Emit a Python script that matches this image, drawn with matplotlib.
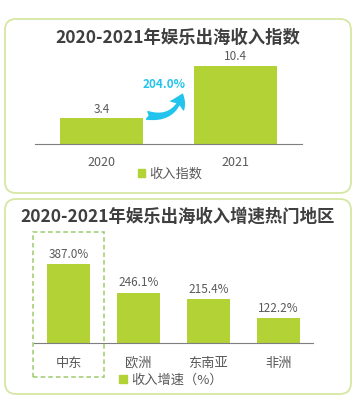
import matplotlib
matplotlib.use('Agg')
import matplotlib.pyplot as plt
from matplotlib.patches import FancyBboxPatch, Rectangle, FancyArrowPatch, Patch

plt.rcParams['font.family'] = ['Noto Sans CJK SC', 'DejaVu Sans']

# ==================== 数据 ====================
years = ['2020', '2021']
income_index = [3.4, 10.4]
growth_label = '204.0%'

regions = ['中东', '欧洲', '东南亚', '非洲']
region_growth = [387.0, 246.1, 215.4, 122.2]

title_top = '2020-2021年娱乐出海收入指数'
title_bottom = '2020-2021年娱乐出海收入增速热门地区'
legend_top = '收入指数'
legend_bottom = '收入增速（%）'

# ==================== 样式 ====================
BAR = '#B2D235'
BORDER = '#D6E7A3'
TITLE = '#3F3F3F'
TEXT = '#595959'
CYAN = '#22C4EE'
DASH = '#9CCB6C'

W, H = 363, 411
fig = plt.figure(figsize=(W / 100, H / 100), dpi=100)


def fx(px):
    return px / W


def fy(py):
    return 1 - py / H


def add_box(x0, y0, x1, y1):
    """圆角边框（像素坐标，左上原点）"""
    box = FancyBboxPatch((x0 / 100, (H - y1) / 100), (x1 - x0) / 100, (y1 - y0) / 100,
                         boxstyle='round,pad=0,rounding_size=0.11',
                         transform=fig.dpi_scale_trans, fill=False,
                         edgecolor=BORDER, linewidth=1.3)
    fig.add_artist(box)


add_box(5, 19, 351, 193)
add_box(5, 199, 351, 394)

# ---------- 上图 ----------
ax1 = fig.add_axes([fx(35), fy(144), fx(302) - fx(35), fy(54) - fy(144)])
ax1.bar(range(len(years)), income_index, width=0.62, color=BAR, zorder=2)
for i, v in enumerate(income_index):
    ax1.text(i, v + 0.35, f'{v}', ha='center', va='bottom', fontsize=8.5, color=TEXT)
ax1.set_xlim(-0.5, 1.5)
ax1.set_ylim(0, 12)
ax1.set_xticks(range(len(years)))
ax1.set_xticklabels(years, fontsize=9, color=TEXT)
ax1.tick_params(axis='x', length=0, pad=9)
ax1.set_yticks([])
for s in ['top', 'right', 'left']:
    ax1.spines[s].set_visible(False)
ax1.spines['bottom'].set_color('#7F7F7F')
ax1.patch.set_alpha(0)

arrow = FancyArrowPatch((0.32, 3.9), (0.61, 7.0),
                        connectionstyle='arc3,rad=0.5',
                        arrowstyle='fancy,head_length=0.9,head_width=1.1,tail_width=0.55',
                        color=CYAN, mutation_scale=10, zorder=3)
ax1.add_patch(arrow)
ax1.text(0.47, 7.9, growth_label, ha='center', va='center', fontsize=8.5,
         fontweight='bold', color=CYAN)

fig.text(0.5 * (fx(5) + fx(351)), fy(38), title_top, ha='center', va='center',
         fontsize=12.5, fontweight='bold', color=TITLE)
fig.legend(handles=[Patch(color=BAR, label=legend_top)], loc='center',
           bbox_to_anchor=(fx(170), fy(174)), frameon=False, fontsize=9.5,
           handlelength=0.6, handleheight=0.6, handletextpad=0.3,
           labelcolor=TEXT, borderpad=0)

# ---------- 下图 ----------
ax2 = fig.add_axes([fx(34), fy(343), fx(313) - fx(34), fy(251) - fy(343)])
ax2.bar(range(len(regions)), region_growth, width=0.62, color=BAR, zorder=2)
for i, v in enumerate(region_growth):
    ax2.text(i, v + 16, f'{v:.1f}%', ha='center', va='bottom', fontsize=8.5, color=TEXT)
ax2.set_xlim(-0.5, 3.5)
ax2.set_ylim(0, 450)
ax2.set_xticks(range(len(regions)))
ax2.set_xticklabels(regions, fontsize=9.5, color=TEXT)
ax2.tick_params(axis='x', length=0, pad=10)
ax2.set_yticks([])
for s in ['top', 'right', 'left']:
    ax2.spines[s].set_visible(False)
ax2.spines['bottom'].set_color('#7F7F7F')
ax2.patch.set_alpha(0)

fig.add_artist(Rectangle((fx(33), fy(377)), fx(104) - fx(33), fy(232) - fy(377),
                         transform=fig.transFigure, fill=False, edgecolor=DASH,
                         linestyle=(0, (3, 2)), linewidth=1.1))

fig.text(0.5 * (fx(5) + fx(351)), fy(217), title_bottom, ha='center', va='center',
         fontsize=12.5, fontweight='bold', color=TITLE)
fig.legend(handles=[Patch(color=BAR, label=legend_bottom)], loc='center',
           bbox_to_anchor=(fx(171), fy(380)), frameon=False, fontsize=9.5,
           handlelength=0.6, handleheight=0.6, handletextpad=0.3,
           labelcolor=TEXT, borderpad=0)

fig.savefig('out.png', dpi=100, facecolor='white')
